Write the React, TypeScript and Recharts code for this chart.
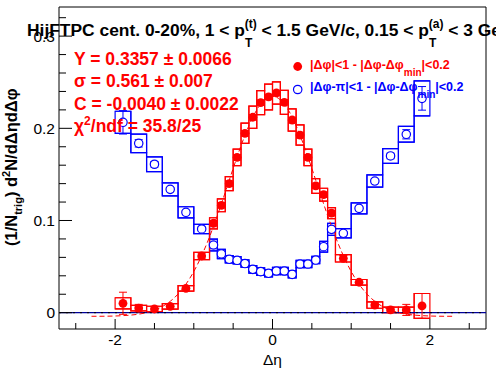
import React from 'react';
import {
  ComposedChart,
  XAxis,
  YAxis,
  Scatter,
  Line,
  ReferenceLine,
  ReferenceArea,
  ErrorBar,
} from 'recharts';

// ---- data ----
const etaBins = [-1.9, -1.7, -1.5, -1.3, -1.1, -0.9, -0.75, -0.65, -0.55, -0.45, -0.35, -0.25, -0.15, -0.05,
  0.05, 0.15, 0.25, 0.35, 0.45, 0.55, 0.65, 0.75, 0.9, 1.1, 1.3, 1.5, 1.7, 1.9];
const binHalfWidths = [0.1, 0.1, 0.1, 0.1, 0.1, 0.1, 0.05, 0.05, 0.05, 0.05, 0.05, 0.05, 0.05, 0.05,
  0.05, 0.05, 0.05, 0.05, 0.05, 0.05, 0.05, 0.05, 0.1, 0.1, 0.1, 0.1, 0.1, 0.1];

const nearValues = [0.0102, 0.0050, 0.0040, 0.0069, 0.0264, 0.0615, 0.0970, 0.1165, 0.1400, 0.1685, 0.1946, 0.2120, 0.2278, 0.2340,
  0.2383, 0.2282, 0.2090, 0.1927, 0.1685, 0.1375, 0.1280, 0.1080, 0.0590, 0.0330, 0.0083, 0.0030, 0.0030, 0.0073];
const nearStat = [0.012, 0.004, 0.003, 0.003, 0.003, 0.003, 0.003, 0.003, 0.003, 0.003, 0.003, 0.003, 0.003, 0.003,
  0.003, 0.003, 0.003, 0.003, 0.003, 0.003, 0.003, 0.003, 0.003, 0.003, 0.003, 0.003, 0.006, 0.0135];
const nearSyst = [0.006, 0.003, 0.003, 0.003, 0.003, 0.004, 0.006, 0.007, 0.0075, 0.009, 0.011, 0.012, 0.013, 0.014,
  0.012, 0.013, 0.012, 0.011, 0.009, 0.008, 0.007, 0.006, 0.004, 0.003, 0.0035, 0.003, 0.003, 0.0135];

const awayValues = [0.2065, 0.1837, 0.1610, 0.1338, 0.1089, 0.0908, 0.0734, 0.0637, 0.0579, 0.0568, 0.0533, 0.0470, 0.0445, 0.0427,
  0.0452, 0.0452, 0.0416, 0.0528, 0.0528, 0.0571, 0.0716, 0.0904, 0.0861, 0.1132, 0.1428, 0.1700, 0.1935, 0.2325];
const awayStat = [0.0127, 0.004, 0.003, 0.002, 0.002, 0.002, 0.002, 0.002, 0.002, 0.002, 0.002, 0.002, 0.002, 0.002,
  0.002, 0.002, 0.002, 0.002, 0.002, 0.002, 0.002, 0.002, 0.002, 0.002, 0.002, 0.003, 0.005, 0.0128];
const awaySyst = [0.012, 0.010, 0.008, 0.007, 0.006, 0.005, 0.0064, 0.005, 0.004, 0.004, 0.004, 0.004, 0.004, 0.004,
  0.004, 0.004, 0.004, 0.004, 0.004, 0.004, 0.0058, 0.0065, 0.005, 0.006, 0.0067, 0.008, 0.0085, 0.019];

// Gaussian fit curve
const fitEta = [-2.3, -2.2, -2.1, -2.0, -1.9, -1.8, -1.7, -1.6, -1.5, -1.4, -1.3, -1.2, -1.1, -1.0, -0.9, -0.8, -0.7, -0.6,
  -0.5, -0.4, -0.3, -0.2, -0.1, 0, 0.1, 0.2, 0.3, 0.4, 0.5, 0.6, 0.7, 0.8, 0.9, 1.0, 1.1, 1.2, 1.3, 1.4, 1.5, 1.6, 1.7,
  1.8, 1.9, 2.0, 2.1, 2.2, 2.3];
const fitValues = [-0.0039, -0.0039, -0.0038, -0.0036, -0.0032, -0.0026, -0.0016, 0.0001, 0.0027, 0.0066, 0.0123, 0.0202,
  0.0309, 0.0447, 0.0619, 0.0823, 0.1056, 0.1307, 0.1565, 0.1811, 0.2029, 0.2200, 0.2309, 0.2347, 0.2309, 0.2200, 0.2029,
  0.1811, 0.1565, 0.1307, 0.1056, 0.0823, 0.0619, 0.0447, 0.0309, 0.0202, 0.0123, 0.0066, 0.0027, 0.0001, -0.0016,
  -0.0026, -0.0032, -0.0036, -0.0038, -0.0039, -0.0039];

const xMajorTicks = [-2, 0, 2];
const xTickLabels = ['-2', '0', '2'];
const xMinorTicks = [-2.5, -1.5, -1, -0.5, 0.5, 1, 1.5, 2.5];
const yMajorTicks = [0, 0.1, 0.2, 0.3];
const yTickLabels = ['0', '0.1', '0.2', '0.3'];
const yMinorTicks = [0.02, 0.04, 0.06, 0.08, 0.12, 0.14, 0.16, 0.18, 0.22, 0.24, 0.26, 0.28, 0.32];

const xDomain = [-2.713, 2.713];
const yDomain = [-0.0177, 0.3316];

const RED = '#ff0000';
const BLUE = '#0000ff';
const FONT = '"Liberation Sans", Arial, Helvetica, sans-serif';

const nearData = etaBins.map((x, i) => ({ x, y: nearValues[i], err: nearStat[i] }));
const awayData = etaBins.map((x, i) => ({ x, y: awayValues[i], err: awayStat[i] }));
const fitData = fitEta.map((x, i) => ({ x, fit: fitValues[i] }));

// step outlines of the systematic bands (bin edges from bin centres and half widths)
const binEdges = [...etaBins.map((x, i) => x - binHalfWidths[i]), etaBins[etaBins.length - 1] + binHalfWidths[binHalfWidths.length - 1]];
const stepData = (vals: number[], sys: number[], sign: number) =>
  binEdges.map((x, i) => {
    const k = Math.min(i, vals.length - 1);
    return { x, y: vals[k] + sign * sys[k] };
  });
const nearUpper = stepData(nearValues, nearSyst, 1);
const nearLower = stepData(nearValues, nearSyst, -1);
const awayUpper = stepData(awayValues, awaySyst, 1);
const awayLower = stepData(awayValues, awaySyst, -1);

const xTicksAll = [...xMajorTicks, ...xMinorTicks].sort((a, b) => a - b);
const yTicksAll = [...yMajorTicks, ...yMinorTicks].sort((a, b) => a - b);

const XTick = (props: any) => {
  const { x, y, payload } = props;
  const idx = xMajorTicks.indexOf(payload.value);
  const major = idx >= 0;
  return (
    <g>
      <line x1={x} x2={x} y1={y} y2={y - (major ? 10 : 6)} stroke="#000" strokeWidth={1} />
      {major && (
        <text x={x} y={y + 16} textAnchor="middle" fontSize={15.5} fontFamily={FONT} fill="#000">
          {xTickLabels[idx]}
        </text>
      )}
    </g>
  );
};

const YTick = (props: any) => {
  const { x, y, payload } = props;
  const idx = yMajorTicks.indexOf(payload.value);
  const major = idx >= 0;
  return (
    <g>
      <line x1={x} x2={x + (major ? 13 : 7)} y1={y} y2={y} stroke="#000" strokeWidth={1} />
      {major && (
        <text x={x - 4} y={y + 5.5} textAnchor="end" fontSize={15.5} fontFamily={FONT} fill="#000">
          {yTickLabels[idx]}
        </text>
      )}
    </g>
  );
};

const redDot = (p: any) => <circle cx={p.cx} cy={p.cy} r={4.4} fill={RED} />;
const blueDot = (p: any) => <circle cx={p.cx} cy={p.cy} r={4.2} fill="#fff" stroke={BLUE} strokeWidth={1.2} />;

const stepLine = (data: any[], color: string, key: string) => (
  <Line
    key={key}
    data={data}
    dataKey="y"
    type="stepAfter"
    stroke={color}
    strokeWidth={1.2}
    dot={false}
    activeDot={false}
    isAnimationActive={false}
  />
);

export default function App() {
  return (
    <div style={{ position: 'absolute', left: 0, top: 0, width: 496, height: 374, background: '#fff' }}>
      <ComposedChart width={496} height={374} margin={{ top: 7, right: 10, bottom: 0, left: 0 }}>
        <XAxis
          type="number"
          dataKey="x"
          domain={xDomain}
          allowDataOverflow
          ticks={xTicksAll}
          interval={0}
          tickSize={0}
          tickMargin={0}
          tick={<XTick />}
          tickLine={false}
          axisLine={{ stroke: '#000', strokeWidth: 1 }}
          height={45}
        />
        <YAxis
          type="number"
          domain={yDomain}
          allowDataOverflow
          ticks={yTicksAll}
          interval={0}
          tickSize={0}
          tickMargin={0}
          tick={<YTick />}
          tickLine={false}
          axisLine={{ stroke: '#000', strokeWidth: 1 }}
          width={59}
        />
        <ReferenceLine x={xDomain[1]} stroke="#000" strokeWidth={1} ifOverflow="visible" />
        <ReferenceLine y={yDomain[1]} stroke="#000" strokeWidth={1} ifOverflow="visible" />

        {etaBins.map((x, i) => (
          <ReferenceArea
            key={'ab' + i}
            x1={x - binHalfWidths[i]}
            x2={x + binHalfWidths[i]}
            y1={awayValues[i] - awaySyst[i]}
            y2={awayValues[i] + awaySyst[i]}
            fill="none"
            stroke={BLUE}
            strokeWidth={1.2}
            ifOverflow="visible"
          />
        ))}
        {stepLine(awayUpper, BLUE, 'au')}
        {stepLine(awayLower, BLUE, 'al')}
        {etaBins.map((x, i) => (
          <ReferenceArea
            key={'nb' + i}
            x1={x - binHalfWidths[i]}
            x2={x + binHalfWidths[i]}
            y1={nearValues[i] - nearSyst[i]}
            y2={nearValues[i] + nearSyst[i]}
            fill="none"
            stroke={RED}
            strokeWidth={1.2}
            ifOverflow="visible"
          />
        ))}
        {stepLine(nearUpper, RED, 'nu')}
        {stepLine(nearLower, RED, 'nl')}

        <ReferenceLine y={0} stroke="#000099" strokeWidth={1.3} />
        <ReferenceLine y={0} stroke="#000" strokeWidth={1} strokeDasharray="2 5" />

        <Scatter data={awayData} dataKey="y" shape={blueDot} isAnimationActive={false}>
          <ErrorBar dataKey="err" direction="y" width={4} stroke={BLUE} strokeWidth={1} />
        </Scatter>
        <Scatter data={nearData} dataKey="y" shape={redDot} isAnimationActive={false}>
          <ErrorBar dataKey="err" direction="y" width={4} stroke={RED} strokeWidth={1} />
        </Scatter>
        <Line
          data={fitData}
          dataKey="fit"
          type="monotone"
          stroke={RED}
          strokeWidth={1}
          strokeDasharray="5 3"
          dot={false}
          activeDot={false}
          isAnimationActive={false}
        />
      </ComposedChart>

      <svg
        width={496}
        height={374}
        style={{ position: 'absolute', left: 0, top: 0, pointerEvents: 'none', overflow: 'hidden' }}
        fontFamily={FONT}
      >
        {/* title */}
        <text x={27} y={36} fontSize={17.4} fontWeight="bold" fill="#000" style={{ whiteSpace: 'pre' }}>
          <tspan>{'HijFTPC cent. 0-20%, 1 < p'}</tspan>
          <tspan dy={11} fontSize={12}>T</tspan>
          <tspan dx={-7.5} dy={-19} fontSize={12}>(t)</tspan>
          <tspan dy={8}>{' < 1.5 GeV/c, 0.15 < p'}</tspan>
          <tspan dy={11} fontSize={12}>T</tspan>
          <tspan dx={-7.5} dy={-19} fontSize={12}>(a)</tspan>
          <tspan dy={8}>{' < 3 GeV/c'}</tspan>
        </text>

        {/* fit results */}
        <g fill={RED} fontSize={17.5} fontWeight="bold" style={{ whiteSpace: 'pre' }}>
          <text x={74} y={64.5}>{'Y = 0.3357  \u00b1 0.0066'}</text>
          <text x={74} y={87}>{'\u03c3 = 0.561  \u00b1 0.007'}</text>
          <text x={74} y={109.5}>{'C = -0.0040  \u00b1 0.0022'}</text>
          <text x={74} y={132}>
            <tspan>{'\u03c7'}</tspan>
            <tspan dy={-7} fontSize={12}>2</tspan>
            <tspan dy={7}>{'/ndf = 35.8/25'}</tspan>
          </text>
        </g>

        {/* legend */}
        <circle cx={297.7} cy={66.5} r={4.4} fill={RED} />
        <text x={310} y={68.5} fontSize={12.5} fontWeight="bold" fill={RED}>
          <tspan>{'|\u0394\u03c6|<1 - |\u0394\u03c6-\u0394\u03c6'}</tspan>
          <tspan dy={7} fontSize={10}>min</tspan>
          <tspan dy={-7}>{'|<0.2'}</tspan>
        </text>
        <circle cx={297.7} cy={89.5} r={4.2} fill="none" stroke={BLUE} strokeWidth={1.2} />
        <text x={310} y={91} fontSize={12.5} fontWeight="bold" fill={BLUE}>
          <tspan>{'|\u0394\u03c6-\u03c0|<1 - |\u0394\u03c6-\u0394\u03c6'}</tspan>
          <tspan dy={7} fontSize={10}>min</tspan>
          <tspan dy={-7}>{'|<0.2'}</tspan>
        </text>

        {/* axis titles */}
        <text x={272.5} y={365} textAnchor="middle" fontSize={15.5} fill="#000">
          {'\u0394\u03b7'}
        </text>
        <text
          transform="translate(16.5,246) rotate(-90)"
          x={0}
          y={0}
          fontSize={16.5}
          fontWeight="bold"
          fill="#000"
          style={{ whiteSpace: 'pre' }}
        >
          <tspan>{'(1/N'}</tspan>
          <tspan dy={5} fontSize={11}>trig</tspan>
          <tspan dy={-5}>{') d'}</tspan>
          <tspan dy={-7} fontSize={11}>2</tspan>
          <tspan dy={7}>{'N/d\u0394\u03b7d\u0394\u03c6'}</tspan>
        </text>
      </svg>
    </div>
  );
}
